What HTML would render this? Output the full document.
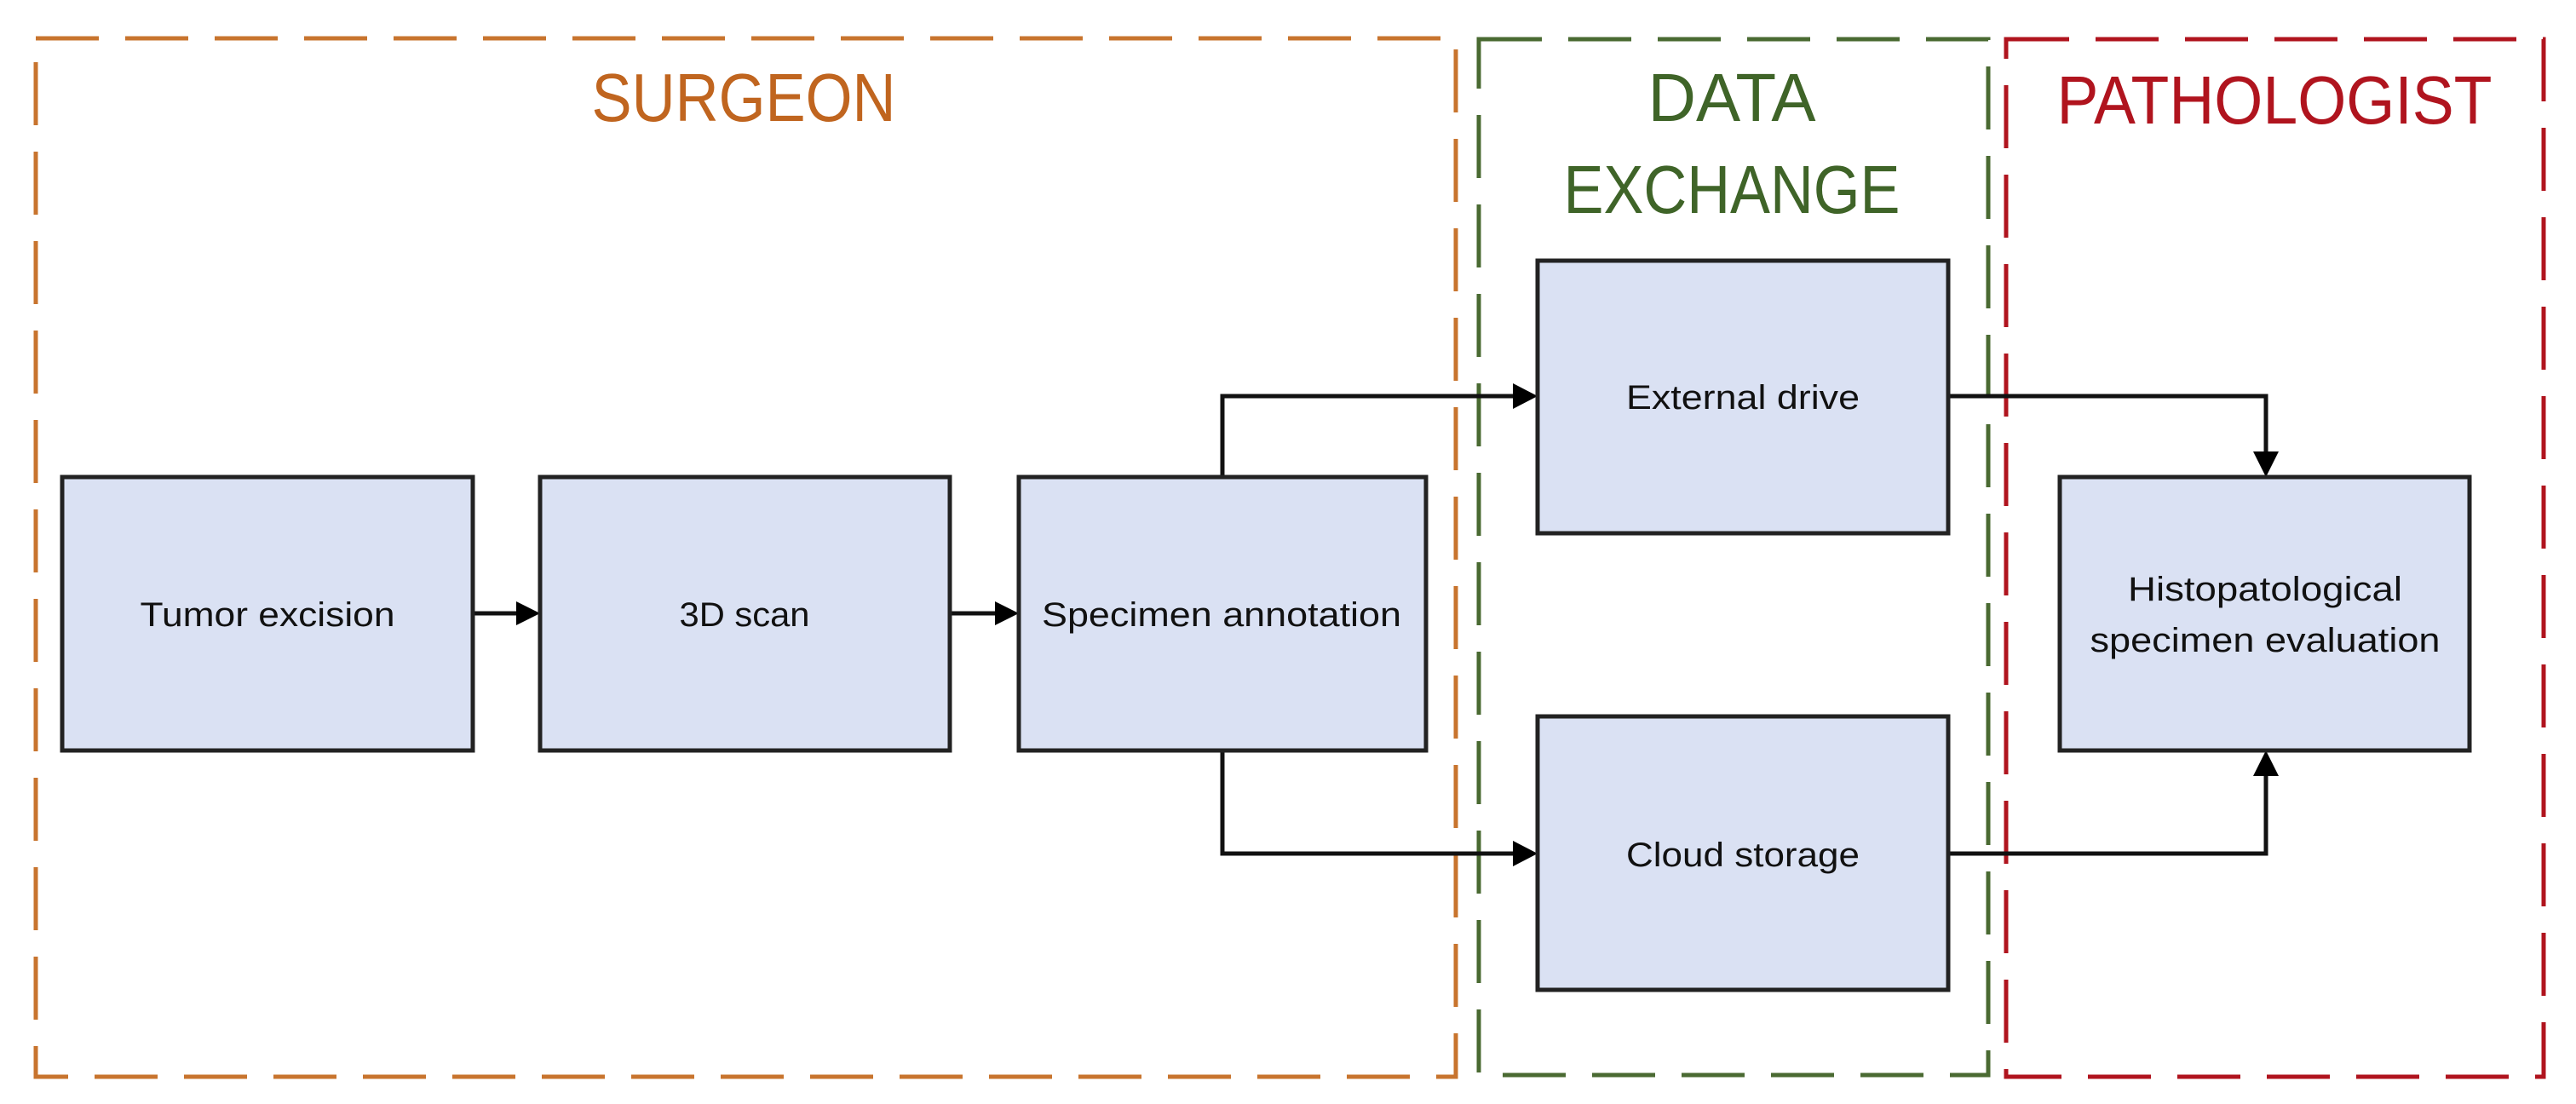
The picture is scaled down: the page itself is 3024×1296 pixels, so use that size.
<!DOCTYPE html>
<html><head><meta charset="utf-8"><style>html,body{margin:0;padding:0;background:#fff}svg{display:block}</style></head>
<body>
<svg width="3024" height="1296" viewBox="0 0 3024 1296" xmlns="http://www.w3.org/2000/svg">
<defs>
<marker id="ah" markerWidth="10" markerHeight="10" refX="10" refY="5" orient="auto" markerUnits="userSpaceOnUse" viewBox="0 0 10 10">
</marker>
</defs>
<rect width="3024" height="1296" fill="#fff"/>
<!-- dashed groups -->
<rect x="42" y="45" width="1667" height="1219" fill="none" stroke="#c8742e" stroke-width="5" stroke-dasharray="74 31"/>
<rect x="1736" y="46" width="598" height="1216" fill="none" stroke="#4a6a32" stroke-width="5" stroke-dasharray="74 31"/>
<rect x="2355" y="46" width="631" height="1218" fill="none" stroke="#b0141e" stroke-width="5" stroke-dasharray="74 31"/>
<g font-family="Liberation Sans, sans-serif" font-size="80" text-anchor="middle">
<text x="873" y="142" fill="#c0651f" textLength="357" lengthAdjust="spacingAndGlyphs">SURGEON</text>
<text x="2033" y="142" fill="#3f6428" textLength="197" lengthAdjust="spacingAndGlyphs">DATA</text>
<text x="2033" y="250" fill="#3f6428" textLength="395" lengthAdjust="spacingAndGlyphs">EXCHANGE</text>
<text x="2670" y="145" fill="#b0141e" textLength="511" lengthAdjust="spacingAndGlyphs">PATHOLOGIST</text>
</g>
<!-- connectors -->
<g stroke="#111" stroke-width="5" fill="none">
<path d="M555 720 H608"/>
<path d="M1115 720 H1170"/>
<path d="M1435 560 V465 H1780"/>
<path d="M1435 881 V1002 H1780"/>
<path d="M2287 465 H2660 V535"/>
<path d="M2287 1002 H2660 V907"/>
</g>
<g fill="#000">
<polygon points="634,720 606,706 606,734"/>
<polygon points="1196,720 1168,706 1168,734"/>
<polygon points="1805,465 1776,450 1776,480"/>
<polygon points="1805,1002 1776,987 1776,1017"/>
<polygon points="2660,560 2645,530 2675,530"/>
<polygon points="2660,881 2645,911 2675,911"/>
</g>
<!-- boxes -->
<g fill="#dae1f3" stroke="#222" stroke-width="5">
<rect x="73" y="560" width="482" height="321"/>
<rect x="634" y="560" width="481" height="321"/>
<rect x="1196" y="560" width="478" height="321"/>
<rect x="1805" y="306" width="482" height="320"/>
<rect x="1805" y="841" width="482" height="321"/>
<rect x="2418" y="560" width="481" height="321"/>
</g>
<g font-family="Liberation Sans, sans-serif" font-size="40" fill="#111" text-anchor="middle">
<text x="314" y="735" textLength="299" lengthAdjust="spacingAndGlyphs">Tumor excision</text>
<text x="874" y="735" textLength="153" lengthAdjust="spacingAndGlyphs">3D scan</text>
<text x="1434" y="735" textLength="422" lengthAdjust="spacingAndGlyphs">Specimen annotation</text>
<text x="2046" y="480" textLength="274" lengthAdjust="spacingAndGlyphs">External drive</text>
<text x="2046" y="1017" textLength="274" lengthAdjust="spacingAndGlyphs">Cloud storage</text>
<text x="2659" y="705" textLength="322" lengthAdjust="spacingAndGlyphs">Histopatological</text>
<text x="2659" y="765" textLength="411" lengthAdjust="spacingAndGlyphs">specimen evaluation</text>
</g>
</svg>
</body></html>
